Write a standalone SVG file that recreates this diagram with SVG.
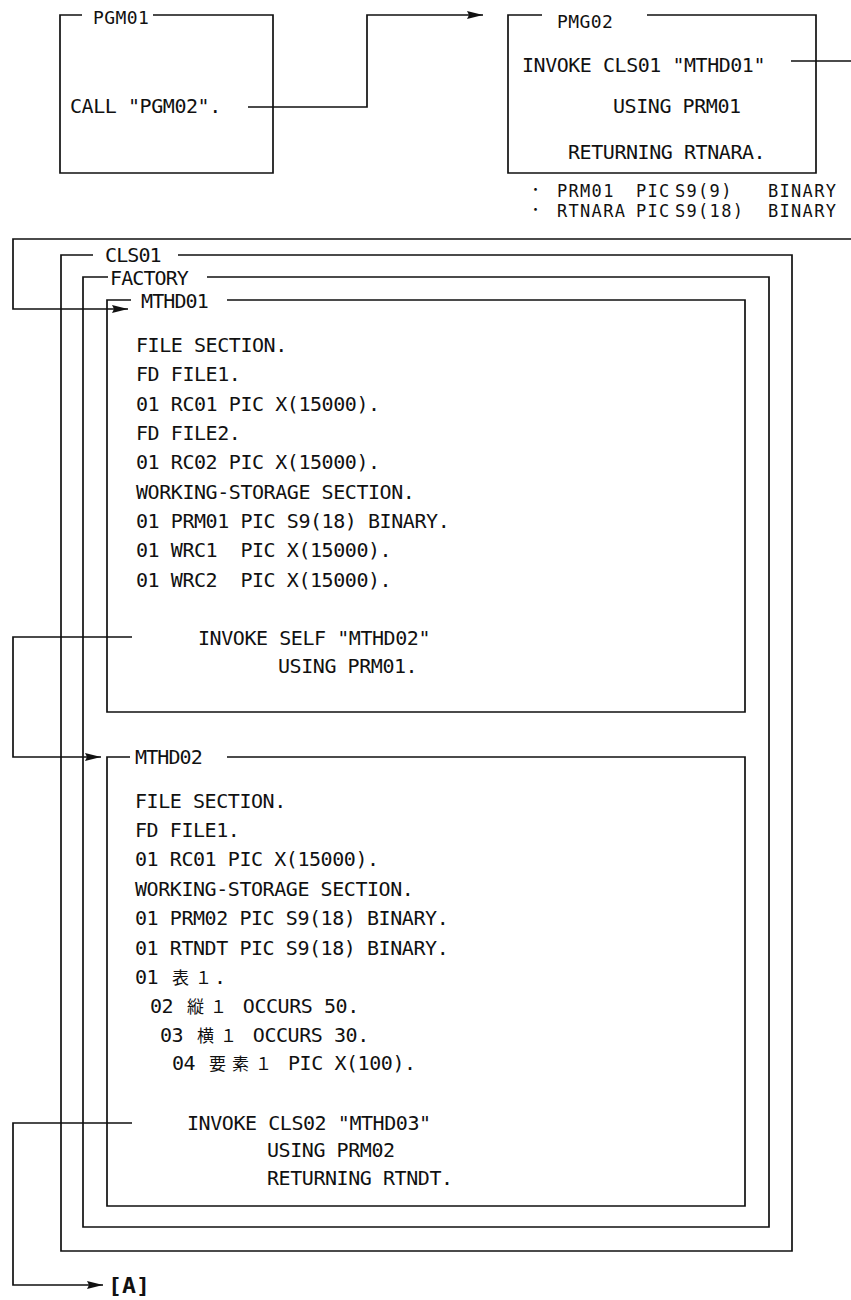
<svg xmlns="http://www.w3.org/2000/svg" width="851" height="1300" viewBox="0 0 851 1300">
<style>
.ln{fill:none;stroke:#111;stroke-width:1.7}
.t{font-family:"DejaVu Sans Mono","Liberation Mono",monospace;font-size:20px;letter-spacing:-0.44px;fill:#111;white-space:pre}
.nt{font-family:"DejaVu Sans Mono","Liberation Mono",monospace;font-size:17px;letter-spacing:1.3px;fill:#111;white-space:pre}
.lb{font-family:"DejaVu Sans Mono","Liberation Mono",monospace;font-size:18px;letter-spacing:0.4px;fill:#111;white-space:pre}
.lc{font-family:"DejaVu Sans Mono","Liberation Mono",monospace;font-size:20px;letter-spacing:-0.9px;fill:#111;white-space:pre}
.cj{font-family:"Noto Sans CJK JP","Noto Sans CJK SC",sans-serif;font-size:17px}
.bl{font-family:"Noto Sans CJK JP","Noto Sans CJK SC",sans-serif;font-size:13px;fill:#111}
.bd{font-family:"DejaVu Sans Mono","Liberation Mono",monospace;font-size:22px;font-weight:bold;fill:#111}
</style>
<defs>
<marker id="ah" markerUnits="userSpaceOnUse" markerWidth="18" markerHeight="10" refX="16" refY="4.5" orient="auto">
<path d="M0,0.5 L16,4.5 L0,8.5 L2,4.5 z" fill="#111"/>
</marker>
</defs>
<rect width="851" height="1300" fill="#fff"/>

<g id="connectors">
<path class="ln" d="M248,107 H367 V15 H483" marker-end="url(#ah)"/>
<path class="ln" d="M791,61 H853 V239 H13 V309 H128" marker-end="url(#ah)"/>
<path class="ln" d="M132,637 H13 V757 H101" marker-end="url(#ah)"/>
<path class="ln" d="M132,1123 H13 V1285 H103" marker-end="url(#ah)"/>
</g>

<g id="PGM01">
<path class="ln" d="M82,15 H60 V173 H273 V15 H153"/>
<text class="lb" x="93" y="24">PGM01</text>
<text class="t" x="70" y="113">CALL "PGM02".</text>
</g>

<g id="PMG02">
<path class="ln" d="M542,15 H508 V173 H816 V15 H647"/>
<text class="lb" x="557" y="28">PMG02</text>
<text class="t" x="522" y="72" textLength="243" lengthAdjust="spacingAndGlyphs">INVOKE CLS01 "MTHD01"</text>
<text class="t" x="613" y="113">USING PRM01</text>
<text class="t" x="568" y="159">RETURNING RTNARA.</text>
</g>

<g id="notes">
<text class="bl" x="529" y="194">・</text>
<text class="nt" y="197"><tspan x="557">PRM01</tspan><tspan x="636">PIC</tspan><tspan x="675">S9(9)</tspan><tspan x="768">BINARY</tspan></text>
<text class="bl" x="529" y="214">・</text>
<text class="nt" y="217"><tspan x="557">RTNARA</tspan><tspan x="636">PIC</tspan><tspan x="675">S9(18)</tspan><tspan x="768">BINARY</tspan></text>
</g>

<g id="CLS01">
<path class="ln" d="M93,255 H61 V1251 H792 V255 H178"/>
<text class="lc" x="105" y="262">CLS01</text>
</g>

<g id="FACTORY">
<path class="ln" d="M108,277 H83 V1227 H769 V277 H207"/>
<text class="lc" x="110" y="285">FACTORY</text>
</g>

<g id="MTHD01">
<path class="ln" d="M131,300 H107 V712 H745 V300 H227"/>
<text class="lc" x="141" y="308">MTHD01</text>
<text class="t" x="136" y="352">FILE SECTION.</text>
<text class="t" x="136" y="381">FD FILE1.</text>
<text class="t" x="136" y="411">01 RC01 PIC X(15000).</text>
<text class="t" x="136" y="440">FD FILE2.</text>
<text class="t" x="136" y="469">01 RC02 PIC X(15000).</text>
<text class="t" x="136" y="499">WORKING-STORAGE SECTION.</text>
<text class="t" x="136" y="528">01 PRM01 PIC S9(18) BINARY.</text>
<text class="t" x="136" y="557">01 WRC1  PIC X(15000).</text>
<text class="t" x="136" y="587">01 WRC2  PIC X(15000).</text>
<text class="t" x="198" y="645">INVOKE SELF "MTHD02"</text>
<text class="t" x="278" y="673">USING PRM01.</text>
</g>

<g id="MTHD02">
<path class="ln" d="M130,757 H107 V1206 H745 V757 H227"/>
<text class="lc" x="135" y="764">MTHD02</text>
<text class="t" x="135" y="808">FILE SECTION.</text>
<text class="t" x="135" y="837">FD FILE1.</text>
<text class="t" x="135" y="866">01 RC01 PIC X(15000).</text>
<text class="t" x="135" y="896">WORKING-STORAGE SECTION.</text>
<text class="t" x="135" y="925">01 PRM02 PIC S9(18) BINARY.</text>
<text class="t" x="135" y="955">01 RTNDT PIC S9(18) BINARY.</text>
<text class="t" y="984"><tspan x="135">01 </tspan><tspan class="cj" x="172 195">表１</tspan><tspan x="214">.</tspan></text>
<text class="t" y="1013"><tspan x="150">02 </tspan><tspan class="cj" x="187 210">縦１</tspan><tspan x="231.2"> OCCURS 50.</tspan></text>
<text class="t" y="1042"><tspan x="160">03 </tspan><tspan class="cj" x="197 220">横１</tspan><tspan x="241.2"> OCCURS 30.</tspan></text>
<text class="t" y="1070"><tspan x="172">04 </tspan><tspan class="cj" x="209 232 255">要素１</tspan><tspan x="276.4"> PIC X(100).</tspan></text>
<text class="t" x="187" y="1130">INVOKE CLS02 "MTHD03"</text>
<text class="t" x="267" y="1157">USING PRM02</text>
<text class="t" x="267" y="1185">RETURNING RTNDT.</text>
</g>

<g id="A">
<text class="bd" x="108" y="1293" textLength="42" lengthAdjust="spacingAndGlyphs">[A]</text>
</g>
</svg>
